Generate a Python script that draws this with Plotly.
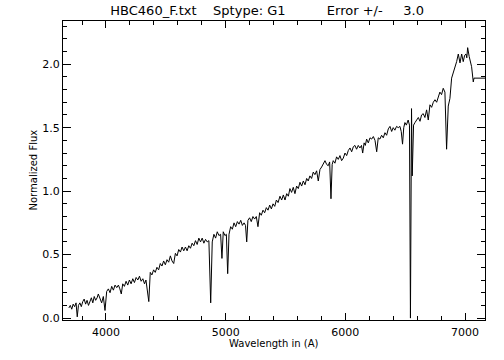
import plotly.graph_objects as go

# Wavelength (Angstrom) and normalized flux
wavelength = [
    3690, 3702, 3714, 3726, 3738, 3750, 3760, 3770, 3782, 3794, 3806, 3818, 3830, 3842,
    3854, 3866, 3878, 3890, 3902, 3914, 3926, 3936, 3950, 3964, 3978, 3992, 4006, 4020,
    4034, 4048, 4062, 4076, 4090, 4104, 4116, 4128, 4140, 4154, 4168, 4182, 4196, 4210,
    4224, 4238, 4252, 4266, 4280, 4294, 4308, 4322, 4334, 4345, 4358, 4370, 4384, 4398,
    4412, 4426, 4440, 4454, 4468, 4482, 4496, 4510, 4524, 4538, 4552, 4566, 4580, 4594,
    4608, 4622, 4636, 4650, 4664, 4678, 4692, 4706, 4720, 4734, 4748, 4762, 4776, 4790,
    4804, 4818, 4832, 4846, 4860, 4875, 4888, 4902, 4916, 4930, 4944, 4958, 4969, 4980,
    4994, 5006, 5017, 5028, 5042, 5056, 5070, 5084, 5098, 5112, 5126, 5140, 5154, 5166,
    5176, 5186, 5200, 5214, 5228, 5242, 5256, 5270, 5284, 5298, 5312, 5326, 5340, 5354,
    5368, 5382, 5396, 5410, 5424, 5438, 5454, 5468, 5482, 5496, 5510, 5524, 5537, 5551,
    5565, 5579, 5593, 5607, 5621, 5635, 5649, 5663, 5677, 5690, 5704, 5718, 5732, 5746,
    5760, 5774, 5788, 5802, 5816, 5830, 5844, 5857, 5869, 5880, 5890, 5899, 5913, 5927,
    5941, 5955, 5969, 5983, 5997, 6011, 6025, 6039, 6053, 6067, 6080, 6094, 6108, 6122,
    6135, 6145, 6157, 6167, 6178, 6192, 6206, 6220, 6234, 6248, 6262, 6275, 6289, 6303,
    6317, 6331, 6345, 6359, 6373, 6387, 6400, 6414, 6428, 6442, 6456, 6467, 6478, 6488,
    6498, 6510, 6525, 6536, 6544, 6553, 6559, 6570, 6582, 6596, 6610, 6624, 6637, 6651,
    6665, 6679, 6693, 6707, 6721, 6735, 6749, 6763, 6777, 6790, 6804, 6818, 6832, 6846,
    6860, 6874, 6888, 6902, 6916, 6930, 6944, 6958, 6972, 6985, 6997, 7008, 7015, 7022,
    7035, 7045, 7055, 7069, 7075, 7200,
]
flux = [
    0.08, 0.10, 0.07, 0.11, 0.09, 0.12, 0.01, 0.10, 0.12, 0.09, 0.13, 0.15, 0.11, 0.14,
    0.10, 0.13, 0.16, 0.12, 0.17, 0.14, 0.16, 0.19, 0.15, 0.12, 0.17, 0.06, 0.21, 0.23,
    0.20, 0.25, 0.22, 0.26, 0.24, 0.26, 0.23, 0.19, 0.27, 0.25, 0.29, 0.26, 0.30, 0.27,
    0.31, 0.28, 0.32, 0.30, 0.33, 0.29, 0.31, 0.27, 0.30, 0.22, 0.13, 0.36, 0.34, 0.38,
    0.36, 0.40, 0.38, 0.43, 0.41, 0.45, 0.42, 0.46, 0.44, 0.49, 0.45, 0.43, 0.51, 0.49,
    0.54, 0.52, 0.56, 0.53, 0.56, 0.53, 0.57, 0.55, 0.59, 0.57, 0.61, 0.58, 0.63, 0.60,
    0.63, 0.59, 0.62, 0.60, 0.61, 0.12, 0.60, 0.66, 0.63, 0.68, 0.65, 0.66, 0.47, 0.68,
    0.65, 0.66, 0.35, 0.66, 0.72, 0.70, 0.75, 0.72, 0.76, 0.74, 0.77, 0.73, 0.75, 0.73,
    0.60, 0.77, 0.79, 0.76, 0.80, 0.78, 0.80, 0.72, 0.83, 0.81, 0.85, 0.83, 0.87, 0.85,
    0.89, 0.86, 0.90, 0.88, 0.93, 0.91, 0.96, 0.93, 0.97, 0.93, 0.98, 0.96, 1.02, 0.99,
    1.03, 0.98, 1.04, 1.02, 1.07, 1.04, 1.08, 1.05, 1.10, 1.08, 1.12, 1.10, 1.15, 1.13,
    1.16, 1.08, 1.17, 1.19, 1.21, 1.24, 1.21, 1.20, 1.23, 0.94, 1.21, 1.24, 1.22, 1.27,
    1.25, 1.28, 1.24, 1.26, 1.30, 1.28, 1.32, 1.34, 1.31, 1.35, 1.36, 1.33, 1.36, 1.34,
    1.36, 1.30, 1.38, 1.36, 1.41, 1.38, 1.42, 1.41, 1.43, 1.40, 1.31, 1.42, 1.41, 1.44,
    1.42, 1.46, 1.44, 1.49, 1.51, 1.47, 1.50, 1.48, 1.51, 1.50, 1.51, 1.47, 1.37, 1.50,
    1.54, 1.52, 1.56, 1.52, 0.00, 1.65, 1.12, 1.52, 1.54, 1.56, 1.58, 1.55, 1.60, 1.61,
    1.58, 1.64, 1.56, 1.68, 1.66, 1.70, 1.72, 1.70, 1.75, 1.78, 1.76, 1.81, 1.78, 1.33,
    1.67, 1.73, 1.89, 1.93, 1.97, 2.02, 2.08, 2.01, 2.08, 2.02, 2.07, 2.08, 2.05, 2.13,
    2.06, 2.02, 1.98, 1.86, 1.89, 1.89,
]

NB = "\u00a0"
title_text = ("HBC460_F.txt" + NB * 4 + "Sptype:" + NB + "G1" + NB * 10
              + "Error" + NB + "+/-" + NB * 5 + "3.0")
x_title = "Wavelength in (A)"
y_title = "Normalized Flux"
x_ticks = [4000, 5000, 6000, 7000]
x_ticklabels = ["4000", "5000", "6000", "7000"]
y_ticks = [0.0, 0.5, 1.0, 1.5, 2.0]
y_ticklabels = ["0.0", "0.5", "1.0", "1.5", "2.0"]

X_RANGE = [3641, 7167]
Y_RANGE = [-0.015, 2.34]
FONT = "DejaVu Sans, Verdana, sans-serif"

fig = go.Figure()
fig.add_trace(go.Scatter(x=wavelength, y=flux, mode="lines",
                         line=dict(color="black", width=1), showlegend=False,
                         hoverinfo="skip"))

common = dict(showgrid=False, zeroline=False, showline=True, linecolor="black",
              linewidth=1, ticks="inside", tickwidth=1, tickcolor="black",
              mirror="allticks", automargin=False)

fig.update_layout(
    width=504, height=360,
    margin=dict(l=63, r=19, t=21, b=40, autoexpand=False),
    paper_bgcolor="white", plot_bgcolor="white",
    font=dict(family=FONT, size=11, color="black"),
    title=dict(text=title_text, x=0.53, xanchor="center", y=0.972, yanchor="middle",
               font=dict(family=FONT, size=13, color="black")),
    xaxis=dict(range=X_RANGE, ticklen=7, tickvals=x_ticks, ticktext=x_ticklabels,
               tickfont=dict(size=11), ticklabelstandoff=2,
               minor=dict(ticks="inside", ticklen=4, tickwidth=1, tickcolor="black",
                          dtick=200, tick0=0, showgrid=False),
               **common),
    yaxis=dict(range=Y_RANGE, ticklen=8, tickvals=y_ticks, ticktext=y_ticklabels,
               tickfont=dict(size=11),
               minor=dict(ticks="inside", ticklen=4, tickwidth=1, tickcolor="black",
                          dtick=0.1, tick0=0, showgrid=False),
               **common),
    annotations=[
        dict(text=x_title, xref="paper", yref="paper", x=0.5, y=-(343 - 320) / 299,
             xanchor="center", yanchor="middle", showarrow=False,
             font=dict(family=FONT, size=10, color="black")),
        dict(text=y_title, xref="paper", yref="paper", x=-(63 - 33) / 422, y=0.5,
             xanchor="center", yanchor="middle", showarrow=False, textangle=-90,
             font=dict(family=FONT, size=10, color="black")),
    ],
)

fig.write_html("out.html", config={"displayModeBar": False},
               post_script="document.body.style.margin='0';document.body.style.padding='0';")
